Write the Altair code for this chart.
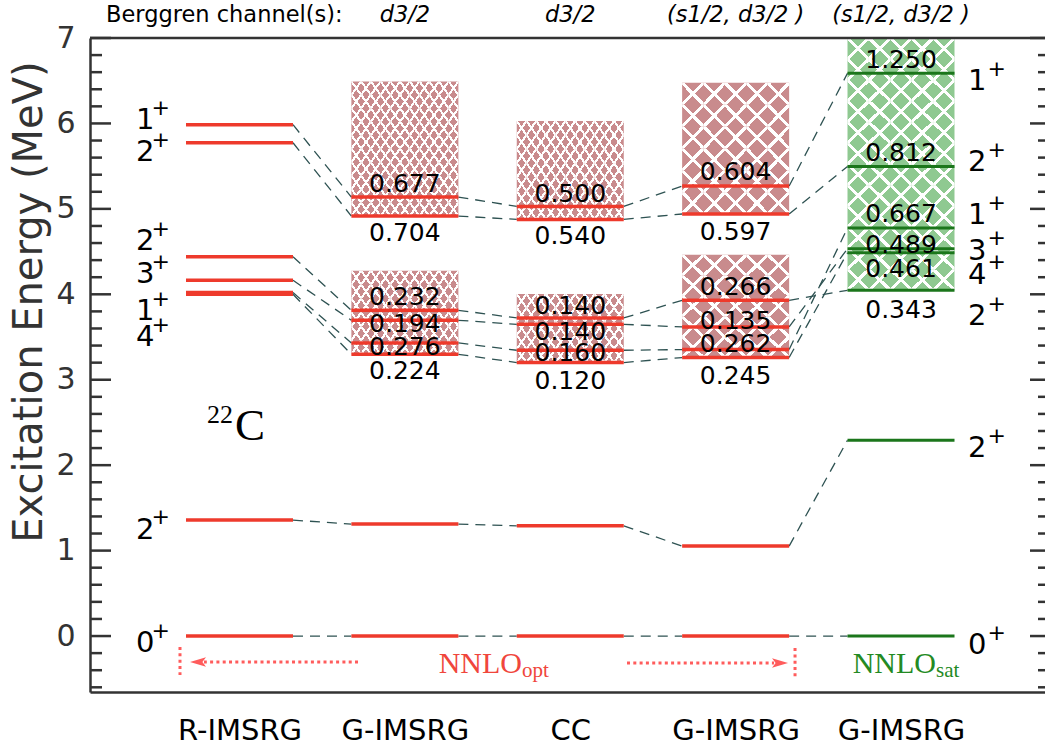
import altair as alt
import pandas as pd

# ------------------------------------------------------------------ data
methods = ["R-IMSRG", "G-IMSRG", "CC", "G-IMSRG", "G-IMSRG"]
channels = ["", "d3/2", "d3/2", "(s1/2, d3/2 )", "(s1/2, d3/2 )"]
interaction = ["opt", "opt", "opt", "opt", "sat"]
state_ids = ["g", "a", "b", "c", "d", "e", "f", "h"]
spins = ["0", "2", "2", "3", "1", "4", "2", "1"]
lower_states = ["b", "c", "d", "e"]
upper_states = ["f", "h"]

E_rimsrg = [0.0, 1.357, 4.44, 4.164, 4.02, 4.00, 5.774, 5.985]
E_gimsrg_d = [0.0, 1.31, 3.813, 3.696, 3.431, 3.298, 4.916, 5.138]
E_cc = [0.0, 1.29, 3.723, 3.649, 3.345, 3.201, 4.877, 5.029]
E_gimsrg_sd = [0.0, 1.053, 3.93, 3.618, 3.353, 3.26, 4.94, 5.267]
E_sat = [0.0, 2.292, 4.047, 4.534, 4.776, 4.487, 5.497, 6.588]

W_gimsrg_d = [None, None, 0.232, 0.194, 0.276, 0.224, 0.704, 0.677]
W_cc = [None, None, 0.140, 0.140, 0.160, 0.120, 0.540, 0.500]
W_gimsrg_sd = [None, None, 0.266, 0.135, 0.262, 0.245, 0.597, 0.604]
W_sat = [None, None, 0.343, 0.489, 0.667, 0.461, 0.812, 1.250]

y_major = [0, 1, 2, 3, 4, 5, 6, 7]
y_minor = [-0.6, -0.4, -0.2, 0.2, 0.4, 0.6, 0.8, 1.2, 1.4, 1.6, 1.8, 2.2, 2.4, 2.6, 2.8,
           3.2, 3.4, 3.6, 3.8, 4.2, 4.4, 4.6, 4.8, 5.2, 5.4, 5.6, 5.8, 6.2, 6.4, 6.6, 6.8]

energies = [E_rimsrg, E_gimsrg_d, E_cc, E_gimsrg_sd, E_sat]
widths = [None, W_gimsrg_d, W_cc, W_gimsrg_sd, W_sat]

# ------------------------------------------------------------------ style / layout
PLOT_W, PLOT_H = 955, 654
Y_DOMAIN = [-0.655, 7.0]
X_DOMAIN = [0.096, 5.8707]
HALF = 0.3235
PPM = PLOT_H / (Y_DOMAIN[1] - Y_DOMAIN[0])

RED = "#ee3a2c"
GREEN = "#1b761b"
CONN = "#2e5252"
AXIS = "#333333"
HATCH_RED = "#c98b8d"
HATCH_GREEN = "#8fc991"
TXT_RED = "#f0463c"
TXT_GREEN = "#238a23"
ARROW = "#ff5c5c"
SANS = "DejaVu Sans"
SERIF = "Liberation Serif"

# hatch style per column (fine = one-channel d3/2, coarse = two channels)
hatch_style = {2: "fine", 3: "fine", 4: "coarse", 5: "coarse"}
hatch_tiles = {"fine": (11, 14.0, 0.435, 0.565), "coarse": (5, 21.0, 0.45, 0.55)}

# pixel offsets of labels relative to their level (positive = down)
spin_dy_left = [7.4, 9.4, -15.4, -6.1, 18.8, 43.1, 9.6, -4.9]
spin_dy_right = [8.9, 7.4, 25.9, 1.9, -12.8, 21.9, -4.1, 8.2]
width_dy = {
    2: [None, None, -13.4, 3.6, 3.6, 17.1, 17.2, -13.4],
    3: [None, None, -11.9, 7.6, 2.6, 18.6, 17.1, -12.4],
    4: [None, None, -13.4, -6.1, -5.4, 18.6, 17.6, -14.4],
    5: [None, None, 19.6, -3.4, -14.4, 16.3, -13.1, -13.1],
}

# ------------------------------------------------------------------ tables
lev_rows, conn_rows = [], []
for k, E in enumerate(energies):
    col = k + 1
    for i, s in enumerate(state_ids):
        lev_rows.append(dict(col=col, state=s, E=E[i], x_lo=col - HALF, x_hi=col + HALF,
                             kind=interaction[k]))
    if k < len(energies) - 1:
        for i, s in enumerate(state_ids):
            conn_rows.append(dict(x=col + HALF, x2=col + 1 - HALF, y=E[i], y2=energies[k + 1][i]))
df_lev = pd.DataFrame(lev_rows)
df_conn = pd.DataFrame(conn_rows)

box_rows = []
for k in range(1, 5):
    E, W = energies[k], widths[k]
    ivals = []
    for grp in (lower_states, upper_states):
        idx = [state_ids.index(s) for s in grp]
        lo = min(E[i] for i in idx)
        hi = max(E[i] + 2 * W[i] for i in idx)
        ivals.append([lo, min(hi, Y_DOMAIN[1])])
    ivals.sort()
    merged = [ivals[0]]
    for a, b in ivals[1:]:
        if a <= merged[-1][1]:
            merged[-1][1] = max(merged[-1][1], b)
        else:
            merged.append([a, b])
    for a, b in merged:
        box_rows.append(dict(col=k + 1, x_lo=k + 1 - HALF, x_hi=k + 1 + HALF, y_lo=a, y_hi=b,
                             kind=interaction[k], style=hatch_style[k + 1]))
df_box = pd.DataFrame(box_rows)

tile_rows = []
for r in box_rows:
    nx, th, _, _ = hatch_tiles[r["style"]]
    ny = max(1, round((r["y_hi"] - r["y_lo"]) * PPM / th))
    dx = (r["x_hi"] - r["x_lo"]) / nx
    dy = (r["y_hi"] - r["y_lo"]) / ny
    for ix in range(nx):
        for iy in range(ny):
            tile_rows.append(dict(style=r["style"], x=r["x_lo"] + ix * dx, x2=r["x_lo"] + (ix + 1) * dx,
                                  y=r["y_lo"] + iy * dy, y2=r["y_lo"] + (iy + 1) * dy))
df_tile = pd.DataFrame(tile_rows)

wl_rows = []
for k in range(1, 5):
    col = k + 1
    for i, s in enumerate(state_ids):
        w = widths[k][i]
        if w is None:
            continue
        wl_rows.append(dict(col=col, txt=f"{w:.3f}", ly=energies[k][i] - width_dy[col][i] / PPM))
df_wl = pd.DataFrame(wl_rows)

df_spin_l = pd.DataFrame(dict(col=[1] * 8, d=spins, p=["+"] * 8,
                              ly=[E_rimsrg[i] - spin_dy_left[i] / PPM for i in range(8)]))
df_spin_r = pd.DataFrame(dict(col=[5] * 8, d=spins, p=["+"] * 8,
                              ly=[E_sat[i] - spin_dy_right[i] / PPM for i in range(8)]))

# ------------------------------------------------------------------ scales / axes
XS = alt.Scale(domain=X_DOMAIN, nice=False, zero=False)
YS = alt.Scale(domain=Y_DOMAIN, nice=False, zero=False)
label_expr = "[" + ",".join(f"'{m}'" for m in [""] + methods) + "][datum.value]"
x_axis = alt.Axis(values=[1, 2, 3, 4, 5], labelExpr=label_expr, title=None, labelFontSize=29,
                  labelFont=SANS, labelColor="black", labelPadding=24, ticks=False, tickSize=0,
                  domainColor=AXIS, domainWidth=2.5, grid=False, labelFlush=False, labelOverlap=False)
y_axis = alt.Axis(values=y_major, title="Excitation Energy (MeV)", titleFontSize=40, titleFont=SANS,
                  titleColor=AXIS, titleFontWeight="normal", titleX=-61, titleY=263.5, titleAngle=270,
                  titleAlign="center", titleBaseline="middle", labelFontSize=30, labelFont=SANS,
                  labelColor=AXIS, labelPadding=15, ticks=False, tickSize=0, domainColor=AXIS,
                  domainWidth=2.5, grid=False, labelFlush=False, labelOverlap=False)


def X(f):
    return alt.X(f"{f}:Q", scale=XS, axis=x_axis)


def Y(f):
    return alt.Y(f"{f}:Q", scale=YS, axis=y_axis)


def grad(direction, lo, hi):
    x1, y1, x2, y2 = (0, 0, 1, 1) if direction == "/" else (1, 0, 0, 1)
    T, Wc = "rgba(255,255,255,0)", "#ffffff"
    stops = [dict(offset=0, color=T), dict(offset=lo, color=T), dict(offset=lo, color=Wc),
             dict(offset=hi, color=Wc), dict(offset=hi, color=T), dict(offset=1, color=T)]
    return dict(gradient="linear", x1=x1, y1=y1, x2=x2, y2=y2, stops=stops)


layers = []

# hatched width boxes
for kind, col_fill in (("opt", HATCH_RED), ("sat", HATCH_GREEN)):
    layers.append(alt.Chart(df_box[df_box.kind == kind]).mark_rect(color=col_fill, strokeWidth=0).encode(
        x=X("x_lo"), x2="x_hi", y=Y("y_lo"), y2="y_hi"))
for style, (_, _, lo, hi) in hatch_tiles.items():
    sub = df_tile[df_tile["style"] == style]
    for d in ("/", "\\"):
        layers.append(alt.Chart(sub).mark_rect(fill=grad(d, lo, hi), strokeWidth=0).encode(
            x=X("x"), x2="x2", y=Y("y"), y2="y2"))

# dashed connectors
layers.append(alt.Chart(df_conn).mark_rule(strokeDash=[10, 7], strokeWidth=1.3, color=CONN).encode(
    x=X("x"), x2="x2", y=Y("y"), y2="y2"))

# levels
for kind, c, sw in (("opt", RED, 3.5), ("sat", GREEN, 3.0)):
    layers.append(alt.Chart(df_lev[df_lev.kind == kind]).mark_rule(color=c, strokeWidth=sw).encode(
        x=X("x_lo"), x2="x_hi", y=Y("E")))

# width labels
layers.append(alt.Chart(df_wl).mark_text(fontSize=25, font=SANS, baseline="middle", align="center",
                                         color="black").encode(x=X("col"), y=Y("ly"), text="txt:N"))

# spin labels
layers.append(alt.Chart(df_spin_l).mark_text(fontSize=29, font=SANS, baseline="middle", align="right",
                                             dx=-85, color="black").encode(x=X("col"), y=Y("ly"), text="d:N"))
layers.append(alt.Chart(df_spin_l).mark_text(fontSize=22, font=SANS, baseline="middle", align="left",
                                             dx=-88, dy=-12.1, color="black").encode(x=X("col"), y=Y("ly"), text="p:N"))
layers.append(alt.Chart(df_spin_r).mark_text(fontSize=29, font=SANS, baseline="middle", align="left",
                                             dx=67, color="black").encode(x=X("col"), y=Y("ly"), text="d:N"))
layers.append(alt.Chart(df_spin_r).mark_text(fontSize=22, font=SANS, baseline="middle", align="left",
                                             dx=86.5, dy=-12.1, color="black").encode(x=X("col"), y=Y("ly"), text="p:N"))

# axis ticks (inward) and top frame
df_major = pd.DataFrame(dict(v=y_major))
df_minor = pd.DataFrame(dict(v=y_minor))
for dfv, x0, x1 in ((df_major, 0, 21), (df_minor, 0, 12), (df_major, PLOT_W, PLOT_W - 15),
                    (df_minor, PLOT_W, PLOT_W - 7)):
    layers.append(alt.Chart(dfv).mark_rule(strokeWidth=2.5, color=AXIS).encode(
        y=Y("v"), x=alt.value(x0), x2=alt.value(x1)))
layers.append(alt.Chart(pd.DataFrame(dict(a=[0]))).mark_rule(strokeWidth=2.5, color=AXIS).encode(
    y=alt.value(0), x=alt.value(0), x2=alt.value(PLOT_W)))

# Berggren channels header
layers.append(alt.Chart(pd.DataFrame(dict(t=["Berggren channel(s):"]))).mark_text(
    align="left", baseline="alphabetic", fontSize=22.5, font=SANS, color="black").encode(
    x=alt.value(16), y=alt.value(-16.3), text="t:N"))
df_ch = pd.DataFrame(dict(col=[2, 3, 4, 5], t=channels[1:]))
layers.append(alt.Chart(df_ch).mark_text(align="center", baseline="alphabetic", fontSize=22.5, font=SANS,
                                         fontStyle="italic", color="black").encode(
    x=X("col"), y=alt.value(-16.3), text="t:N"))

# interaction annotations
for x, main, sub, c in ((2.7083, "NNLO", "opt", TXT_RED), (5.2118, "NNLO", "sat", TXT_GREEN)):
    layers.append(alt.Chart(pd.DataFrame(dict(x=[x], y=[-0.433], t=[main]))).mark_text(
        align="right", baseline="alphabetic", fontSize=30, font=SERIF, color=c).encode(
        x=X("x"), y=Y("y"), text="t:N"))
    layers.append(alt.Chart(pd.DataFrame(dict(x=[x], y=[-0.48], t=[sub]))).mark_text(
        align="left", baseline="alphabetic", fontSize=21, font=SERIF, color=c).encode(
        x=X("x"), y=Y("y"), text="t:N"))

# dotted arrows
df_arr = pd.DataFrame(dict(x=[1.7166, 3.3432], x2=[0.7854, 4.2322], y=[-0.304, -0.316]))
layers.append(alt.Chart(df_arr).mark_rule(strokeDash=[3, 3.3], strokeWidth=3, color=ARROW, strokeCap="butt").encode(
    x=X("x"), x2="x2", y=Y("y")))
df_bar = pd.DataFrame(dict(x=[0.6402, 4.3592], y=[-0.129, -0.141], y2=[-0.457, -0.480]))
layers.append(alt.Chart(df_bar).mark_rule(strokeDash=[3, 3.3], strokeWidth=3, color=ARROW, strokeCap="butt").encode(
    x=X("x"), y=Y("y"), y2="y2"))
layers.append(alt.Chart(pd.DataFrame(dict(x=[0.7491], y=[-0.304]))).mark_point(
    shape="M -1 0 L 1 -0.6 L 0.55 0 L 1 0.6 Z", size=256, filled=True, opacity=1, color=ARROW).encode(
    x=X("x"), y=Y("y")))
layers.append(alt.Chart(pd.DataFrame(dict(x=[4.2685], y=[-0.316]))).mark_point(
    shape="M 1 0 L -1 -0.6 L -0.55 0 L -1 0.6 Z", size=256, filled=True, opacity=1, color=ARROW).encode(
    x=X("x"), y=Y("y")))

# nucleus label
layers.append(alt.Chart(pd.DataFrame(dict(x=[0.9607], y=[2.4934], t=["22"]))).mark_text(
    align="right", baseline="alphabetic", fontSize=26, font=SERIF, color="black").encode(
    x=X("x"), y=Y("y"), text="t:N"))
layers.append(alt.Chart(pd.DataFrame(dict(x=[0.9728], y=[2.2944], t=["C"]))).mark_text(
    align="left", baseline="alphabetic", fontSize=45, font=SERIF, color="black").encode(
    x=X("x"), y=Y("y"), text="t:N"))

chart = alt.layer(*layers).properties(
    width=PLOT_W, height=PLOT_H,
    autosize=alt.AutoSizeParams(type="none"),
    padding={"left": 90, "top": 38, "right": 0, "bottom": 54},
).configure_view(stroke=None).configure(font=SANS)

chart.save("out.html", embed_options={"renderer": "svg", "actions": False})
